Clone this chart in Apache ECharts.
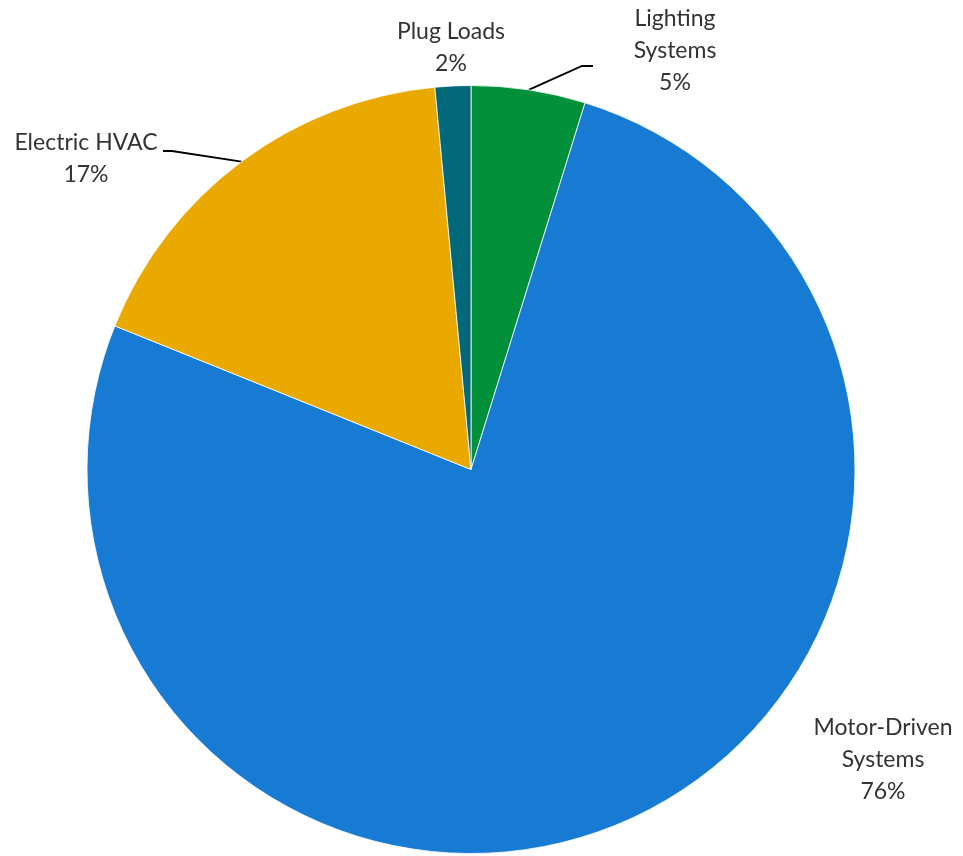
<!DOCTYPE html>
<html>
<head>
<meta charset="utf-8">
<script src="https://cdn.jsdelivr.net/npm/echarts@6/dist/echarts.min.js"></script>
<style>html,body{margin:0;padding:0;background:#fff;}#c{width:963px;height:856px;}</style>
</head>
<body>
<div id="c"></div>
<script>
var categories = ['Lighting\nSystems', 'Motor-Driven\nSystems', 'Electric HVAC', 'Plug Loads'];
var values = [4.8, 76.3, 17.4, 1.5];
var palette = ['#03903A', '#177BD4', '#EAA900', '#006878'];

// label placement (style): centre of label block and bend points of leader lines
var labelSpots = [
  {x: 675, y: 51, line: [[582, 66], [593, 66]]},
  {x: 883, y: 760, line: null},
  {x: 86, y: 159, line: [[172, 151], [163, 151]]},
  {x: 451, y: 48, line: null}
];

var chart = echarts.init(document.getElementById('c'), null, {renderer: 'canvas'});
chart.setOption({
  animation: false,
  series: [{
    type: 'pie',
    center: [471, 469.5],
    radius: 384,
    startAngle: 90,
    clockwise: true,
    percentPrecision: 0,
    avoidLabelOverlap: false,
    data: categories.map(function (n, i) {
      return {
        name: n,
        value: values[i],
        itemStyle: {color: palette[i]},
        labelLine: {show: !!labelSpots[i].line}
      };
    }),
    itemStyle: {borderColor: 'rgba(255,255,255,0.8)', borderWidth: 1},
    label: {
      show: true,
      position: 'outside',
      formatter: '{b}\n{d}%',
      fontFamily: 'Lato',
      fontSize: 23,
      lineHeight: 32,
      color: '#333',
      align: 'center'
    },
    labelLine: {
      show: true,
      lineStyle: {color: '#000', width: 1.8}
    },
    labelLayout: function (params) {
      var s = labelSpots[params.dataIndex];
      var out = {x: s.x, y: s.y, align: 'center', verticalAlign: 'middle'};
      if (s.line && params.labelLinePoints) {
        out.labelLinePoints = [params.labelLinePoints[0]].concat(s.line);
      }
      return out;
    }
  }]
});
</script>
</body>
</html>
